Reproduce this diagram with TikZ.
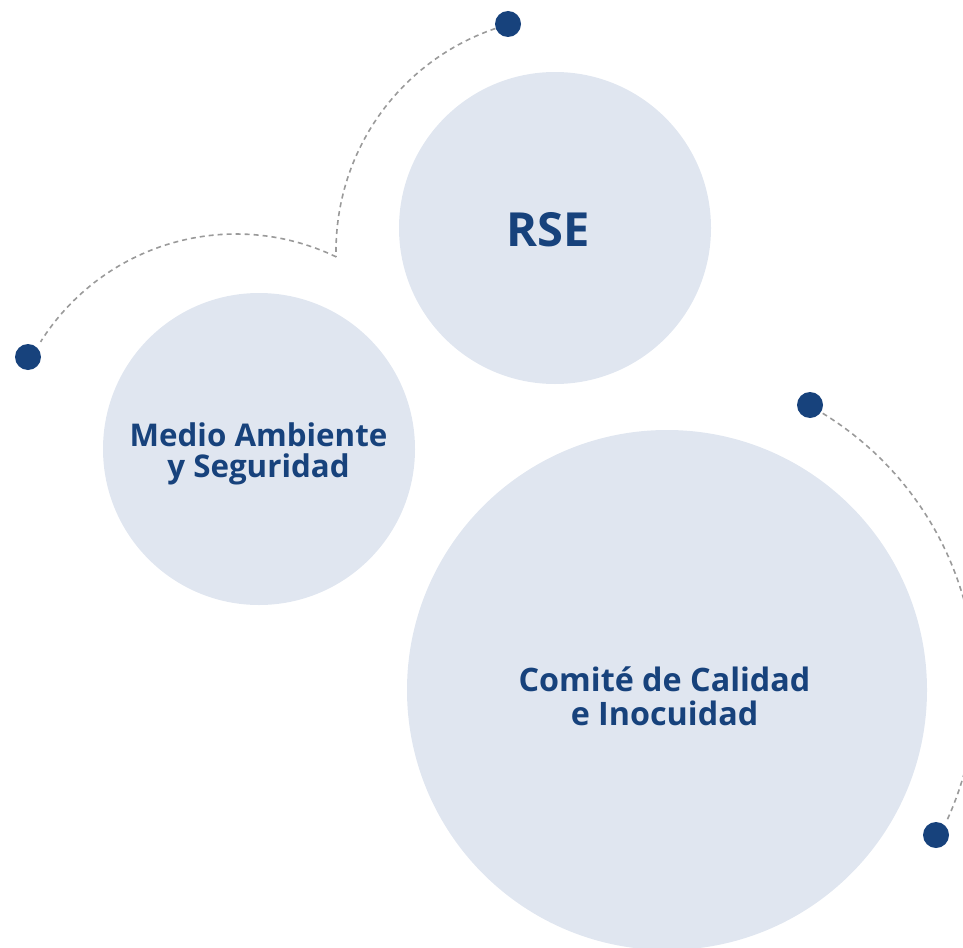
\documentclass[tikz,border=0pt]{standalone}
\usepackage{fontspec}
\setmainfont{Open Sans}
\definecolor{bubble}{HTML}{E0E6F0}
\definecolor{navy}{HTML}{17427C}
\definecolor{dashgray}{HTML}{9A9A9A}
\tikzset{
  bubble/.style={circle, fill=bubble, draw=none, inner sep=0pt, text=navy, font=\bfseries, align=center},
  dotnode/.style={circle, fill=navy, draw=none, inner sep=0pt, minimum size=26pt},
  dashline/.style={draw=dashgray, line width=1.6pt, dash pattern=on 5pt off 4pt},
  label/.style={text=navy, align=center, anchor=base, inner sep=0pt},
}
\begin{document}
\begin{tikzpicture}[x=1pt, y=-1pt]
\useasboundingbox (0,0) rectangle (963,947);
\clip (0,0) rectangle (963,947);
% bubbles
\node[bubble, minimum size=312pt] (rse) at (555,228) {};
\node[bubble, minimum size=312pt] (medio) at (259,449) {};
\node[bubble, minimum size=520pt] (comite) at (667,690) {};
\node[label, font=\bfseries\fontsize{47}{47}\selectfont] (rsetxt) at (548.5,246) {RSE};
\node[label, font=\bfseries\fontsize{31.3}{30.5}\selectfont] (mediotxt) at (258.5,477) {Medio Ambiente\\y Seguridad};
\node[label, font=\bfseries\fontsize{32.3}{34}\selectfont] (comitetxt) at (664.5,725) {Comité de Calidad\\e Inocuidad};
% dashed arcs
\draw[dashline] plot[domain=108.8:181.5, samples=60] ({571+235*cos(\x)}, {251-235*sin(\x)});
\draw[dashline] plot[domain=64.3:147.8, samples=60] ({236+231*cos(\x)}, {465-231*sin(\x)});
\draw[dashline] plot[domain=58.5:-24.5, samples=80] ({655+321*cos(\x)}, {687-321*sin(\x)});
% dots
\node[dotnode] (d1) at (508,24) {};
\node[dotnode] (d2) at (28,357) {};
\node[dotnode] (d3) at (810,405) {};
\node[dotnode] (d4) at (936,835) {};
\end{tikzpicture}
\end{document}
